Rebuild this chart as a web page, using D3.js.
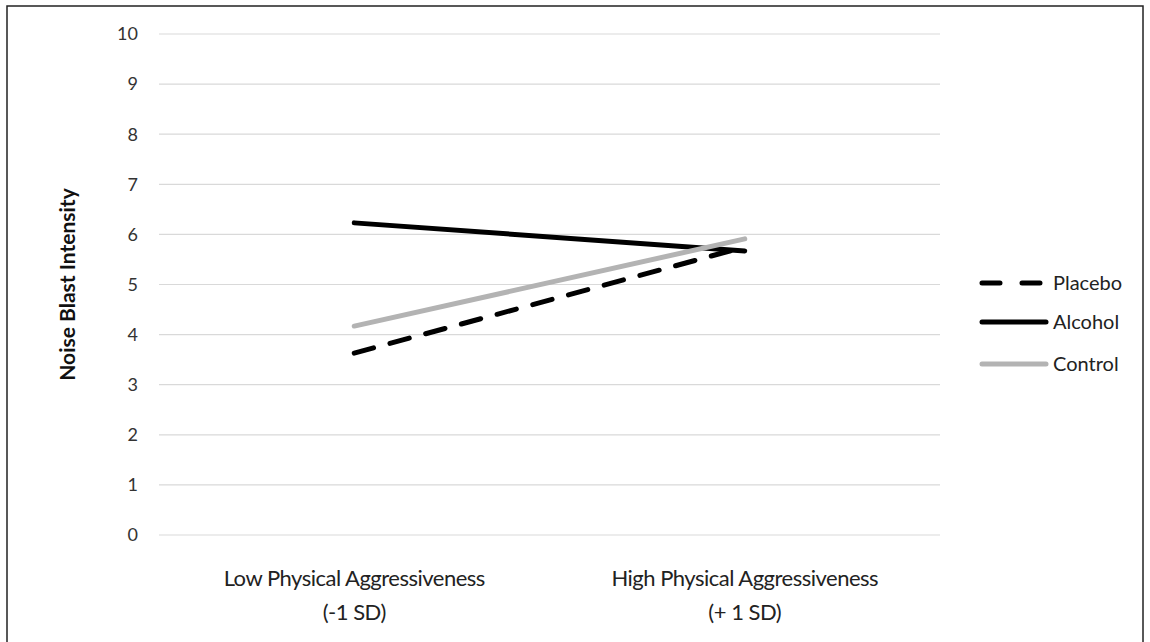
<!DOCTYPE html>
<html>
<head>
<meta charset="utf-8">
<script src="https://cdn.jsdelivr.net/npm/d3@7"></script>
<style>
  body { margin: 0; background: #fff; }
  text { font-family: Lato, "Open Sans", sans-serif; }
</style>
</head>
<body>
<svg id="chart"></svg>
<script>
// data
const categories = ["Low Physical Aggressiveness|(-1 SD)", "High Physical Aggressiveness|(+ 1 SD)"];
const seriesNames = ["Placebo", "Alcohol", "Control"];
const placebo = [3.63, 5.75];
const alcohol = [6.23, 5.67];
const control = [4.17, 5.91];
const yTicks = [0, 1, 2, 3, 4, 5, 6, 7, 8, 9, 10];

const width = 1150, height = 642;
let margin = {top: 34, right: 210, bottom: 107, left: 159};

const svg = d3.select("#chart")
  .attr("width", width)
  .attr("height", height);

// outer frame
svg.append("rect")
  .attr("x", 7).attr("y", 6)
  .attr("width", 1136).attr("height", 645)
  .attr("fill", "none")
  .attr("stroke", "#222")
  .attr("stroke-width", 1.5);

let x = d3.scaleBand()
  .domain(categories)
  .range([margin.left, width - margin.right]);

let y = d3.scaleLinear()
  .domain([0, 10])
  .range([height - margin.bottom, margin.top]);

// gridlines
svg.append("g")
  .selectAll("line")
  .data(yTicks)
  .enter().append("line")
  .attr("x1", margin.left)
  .attr("x2", width - margin.right)
  .attr("y1", d => y(d))
  .attr("y2", d => y(d))
  .attr("stroke", "#d9d9d9")
  .attr("stroke-width", 1.2);

// y tick labels
svg.append("g")
  .selectAll("text")
  .data(yTicks)
  .enter().append("text")
  .attr("x", 138)
  .attr("y", d => y(d))
  .attr("dy", "0.35em")
  .attr("text-anchor", "end")
  .attr("fill", "#333")
  .style("font-size", "18px")
  .text(d => d);

// x category labels (two lines each)
let xl = svg.append("g")
  .selectAll("text")
  .data(categories)
  .enter().append("text")
  .attr("x", d => x(d) + x.bandwidth() / 2)
  .attr("y", 586)
  .attr("text-anchor", "middle")
  .attr("fill", "#222")
  .style("font-size", "22px")
  .style("letter-spacing", "-0.5px");
xl.each(function(d) {
  let parts = d.split("|");
  d3.select(this).selectAll("tspan")
    .data(parts)
    .enter().append("tspan")
    .attr("x", x(d) + x.bandwidth() / 2)
    .attr("dy", (p, i) => i === 0 ? 0 : 34)
    .text(p => p);
});

// y axis title
svg.append("text")
  .attr("transform", "translate(68," + y(5) + ") rotate(-90)")
  .attr("text-anchor", "middle")
  .attr("dy", "0.35em")
  .attr("fill", "#111")
  .style("font-size", "21px")
  .style("font-weight", "bold")
  .text("Noise Blast Intensity");

// series
const series = [
  {name: seriesNames[0], values: placebo, color: "#000", dash: "20,17"},
  {name: seriesNames[1], values: alcohol, color: "#000", dash: null},
  {name: seriesNames[2], values: control, color: "#b3b3b3", dash: null}
];

const line = d3.line()
  .x((v, i) => x(categories[i]) + x.bandwidth() / 2)
  .y(v => y(v));

svg.append("g")
  .selectAll("path")
  .data(series)
  .enter().append("path")
  .attr("d", d => line(d.values))
  .attr("fill", "none")
  .attr("stroke", d => d.color)
  .attr("stroke-width", 5)
  .attr("stroke-linecap", "round")
  .attr("stroke-dasharray", d => d.dash);

// legend
let legendY = [283, 322, 364];
let lg = svg.append("g")
  .selectAll("g")
  .data(series)
  .enter().append("g")
  .attr("transform", (d, i) => "translate(0," + legendY[i] + ")");

lg.append("line")
  .attr("x1", 982).attr("x2", 1046)
  .attr("y1", 0).attr("y2", 0)
  .attr("stroke", d => d.color)
  .attr("stroke-width", 5)
  .attr("stroke-linecap", "round")
  .attr("stroke-dasharray", d => d.dash ? "18,22" : null);

lg.append("text")
  .attr("x", 1053)
  .attr("y", 0)
  .attr("dy", "0.35em")
  .attr("fill", "#222")
  .style("font-size", "20px")
  .text(d => d.name);
</script>
</body>
</html>
